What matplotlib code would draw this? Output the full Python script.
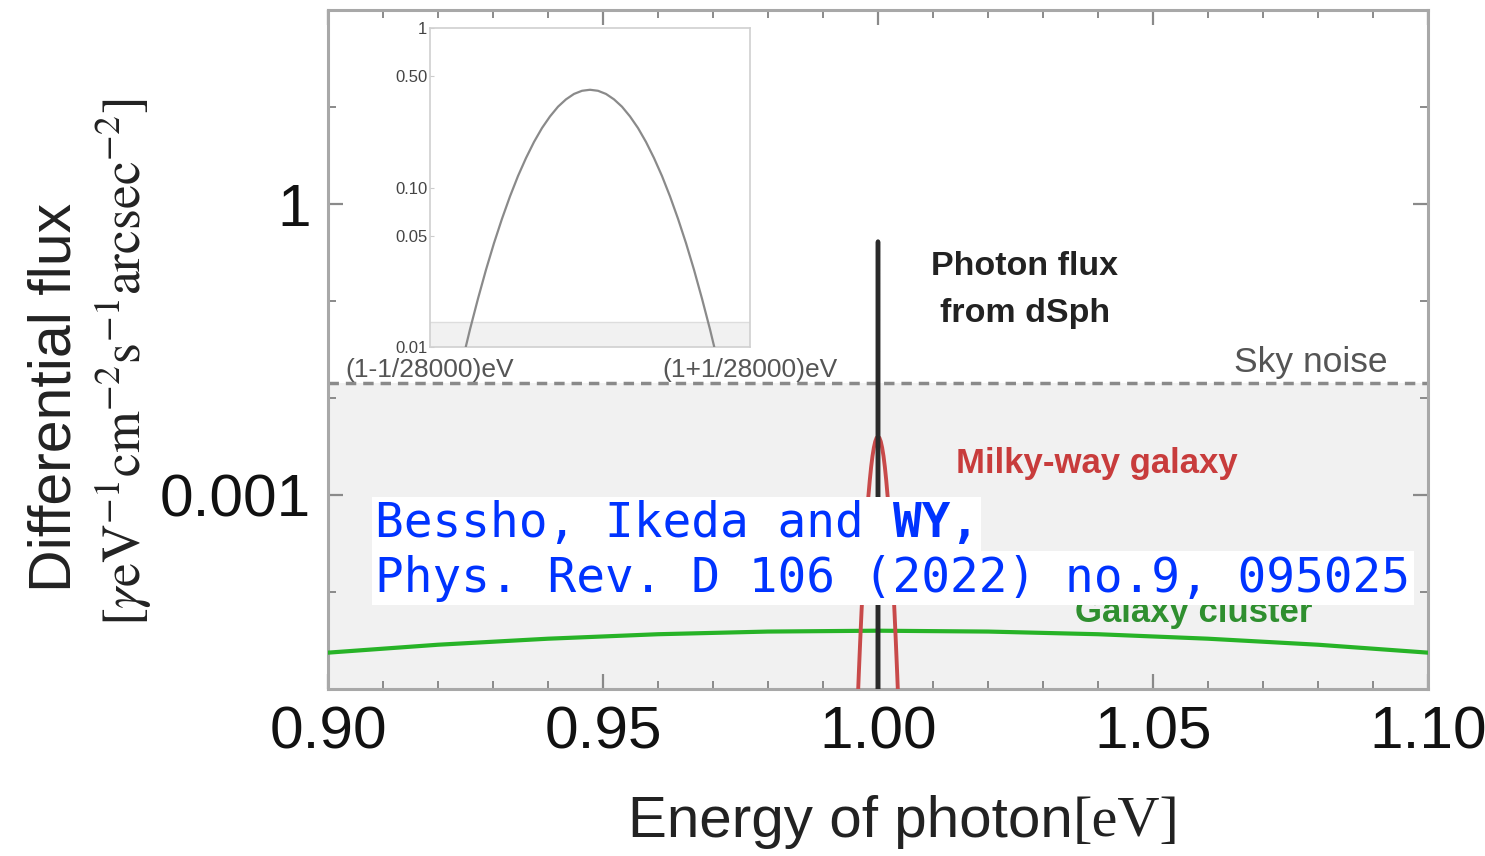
import matplotlib
matplotlib.use('Agg')
import matplotlib.pyplot as plt
import numpy as np
from matplotlib.ticker import FixedLocator, MultipleLocator, NullFormatter, FixedFormatter, FormatStrFormatter
from matplotlib.patches import Rectangle

# ---------------- data ----------------
x_min, x_max = 0.90, 1.10
y_min, y_max = 1e-5, 1e2
sky_noise = 0.0143

# photon flux from dSph: offsets in units of 1/28000 eV around 1 eV
photon_offset = [-1.4, -1.2, -1.0, -0.8, -0.75, -0.7, -0.65, -0.6, -0.55, -0.5, -0.45, -0.4,
                 -0.35, -0.3, -0.25, -0.2, -0.15, -0.1, -0.05, 0.0,
                 0.05, 0.1, 0.15, 0.2, 0.25, 0.3, 0.35, 0.4, 0.45, 0.5, 0.55, 0.6,
                 0.65, 0.7, 0.75, 0.8, 1.0, 1.2, 1.4]
photon_flux = [2.4e-6, 5.8e-5, 8.7e-4, 0.0080, 0.0129, 0.0201, 0.0305, 0.0448, 0.0637, 0.088, 0.118, 0.153,
               0.193, 0.236, 0.279, 0.321, 0.357, 0.386, 0.404, 0.41,
               0.404, 0.386, 0.357, 0.321, 0.279, 0.236, 0.193, 0.153, 0.118, 0.088, 0.0637, 0.0448,
               0.0305, 0.0201, 0.0129, 0.0080, 8.7e-4, 5.8e-5, 2.4e-6]

# Milky-way galaxy: energy offsets from 1 eV
milky_offset = [-0.00375, -0.0035, -0.00325, -0.003, -0.00275, -0.0025, -0.00225, -0.002, -0.00175,
                -0.0015, -0.00125, -0.001, -0.00075, -0.0005, -0.00025, 0.0,
                0.00025, 0.0005, 0.00075, 0.001, 0.00125, 0.0015, 0.00175, 0.002, 0.00225,
                0.0025, 0.00275, 0.003, 0.00325, 0.0035, 0.00375]
milky_flux = [6.0e-6, 1.39e-5, 3.0e-5, 6.2e-5, 1.21e-4, 2.22e-4, 3.85e-4, 6.3e-4, 9.7e-4,
              1.41e-3, 1.94e-3, 2.52e-3, 3.08e-3, 3.56e-3, 3.89e-3, 4.0e-3,
              3.89e-3, 3.56e-3, 3.08e-3, 2.52e-3, 1.94e-3, 1.41e-3, 9.7e-4, 6.3e-4, 3.85e-4,
              2.22e-4, 1.21e-4, 6.2e-5, 3.0e-5, 1.39e-5, 6.0e-6]

# Galaxy cluster
cluster_E = [0.90, 0.92, 0.94, 0.96, 0.98, 1.00, 1.02, 1.04, 1.06, 1.08, 1.10]
cluster_flux = [2.37e-5, 2.86e-5, 3.30e-5, 3.67e-5, 3.91e-5, 3.99e-5, 3.91e-5, 3.67e-5, 3.30e-5, 2.86e-5, 2.37e-5]

x_major = [0.90, 0.95, 1.00, 1.05, 1.10]
y_major = [1e-3, 1e0]
y_major_labels = ['0.001', '1']
y_minor = [1e-5, 1e-4, 1e-2, 1e-1, 1e1, 1e2]

inset_yticks = [0.01, 0.05, 0.10, 0.50, 1.0]
inset_ylabels = ['0.01', '0.05', '0.10', '0.50', '1']
inset_xticks = [-1, 1]
inset_xlabels = ['(1-1/28000)eV', '(1+1/28000)eV']

# ---------------- figure ----------------
W, H = 1485, 856
plt.rcParams['font.family'] = ['Liberation Sans', 'DejaVu Sans']
plt.rcParams['mathtext.fontset'] = 'stix'
fig = plt.figure(figsize=(W / 100, H / 100), dpi=100)

def fx(px):
    return px / W

def fy(py):
    return 1 - py / H

ax = fig.add_axes([fx(328), fy(689), fx(1428) - fx(328), fy(10) - fy(689)])
ax.set_yscale('log')
ax.set_xlim(x_min, x_max)
ax.set_ylim(y_min, y_max)

# shaded sky-noise region
ax.fill_between([x_min, x_max], [y_min, y_min], [sky_noise, sky_noise], color='#f1f1f1', zorder=0, lw=0)
ax.axhline(sky_noise, color='#8a8a8a', lw=2.5, ls=(0, (3, 2)), zorder=2)

ax.plot(cluster_E, cluster_flux, color='#27b327', lw=3, zorder=3)
milky_E = 1.0 + np.array(milky_offset)
ax.plot(milky_E, milky_flux, color='#c84a4a', lw=2.8, zorder=3)
photon_E = 1.0 + np.array(photon_offset) / 28000.0
ax.plot(photon_E, photon_flux, color='#2a2a2a', lw=3.2, zorder=4)

# ticks
ax.xaxis.set_major_locator(FixedLocator(x_major))
ax.xaxis.set_minor_locator(MultipleLocator(0.01))
ax.xaxis.set_major_formatter(FormatStrFormatter('%.2f'))
ax.yaxis.set_major_locator(FixedLocator(y_major))
ax.yaxis.set_major_formatter(FixedFormatter(y_major_labels))
ax.yaxis.set_minor_locator(FixedLocator(y_minor))
ax.yaxis.set_minor_formatter(NullFormatter())
ax.tick_params(which='both', direction='in', top=True, right=True, color='#8a8a8a')
ax.tick_params(which='major', length=11, width=1.6, labelsize=43.5, labelcolor='#111111')
ax.tick_params(which='minor', length=6, width=1.4)
ax.tick_params(axis='x', which='major', pad=12)
ax.tick_params(axis='y', which='major', pad=12)
for s in ax.spines.values():
    s.set_color('#a8a8a8')
    s.set_linewidth(2.2)

# annotations
ax.text(1.0267, 0.229, 'Photon flux', ha='center', va='center', fontsize=24.5, fontweight='bold', color='#222222', zorder=5)
ax.text(1.0267, 0.075, 'from dSph', ha='center', va='center', fontsize=24.5, fontweight='bold', color='#222222', zorder=5)
ax.text(1.0927, 0.0235, 'Sky noise', ha='right', va='center', fontsize=25.5, color='#555555', zorder=5)
ax.text(1.0142, 0.00209, 'Milky-way galaxy', ha='left', va='center', fontsize=25, fontweight='bold', color='#c83c3c', zorder=5)
ax.text(1.0358, 6.1e-5, 'Galaxy cluster', ha='left', va='center', fontsize=25, fontweight='bold', color='#2f8f2f', zorder=5)

# axis labels
fig.text(fx(55), fy(397), 'Differential flux', rotation=90, ha='center', va='center', fontsize=42.5, color='#222222')
fig.text(fx(124), fy(362), r'$[\gamma\mathrm{eV}^{-1}\mathrm{cm}^{-2}\mathrm{s}^{-1}\mathrm{arcsec}^{-2}]$',
         rotation=90, ha='center', va='center', fontsize=38.5, color='#222222')
fig.text(fx(1073), fy(822), 'Energy of photon', ha='right', va='center', fontsize=42, color='#222222')
fig.text(fx(1073), fy(822), '[eV]', ha='left', va='center', fontsize=42, color='#222222', family='Liberation Serif')

# inset
ins = fig.add_axes([fx(430), fy(347), fx(750) - fx(430), fy(28) - fy(347)])
ins.set_facecolor('white')
ins.set_yscale('log')
ins.set_xlim(-1, 1)
ins.set_ylim(0.01, 1)
ins.fill_between([-1, 1], [0.01, 0.01], [sky_noise, sky_noise], color='#f1f1f1', lw=0, zorder=0)
ins.axhline(sky_noise, color='#dddddd', lw=1, zorder=1)
ins.plot(photon_offset, photon_flux, color='#8a8a8a', lw=1.6, zorder=3)
ins.yaxis.set_major_locator(FixedLocator(inset_yticks))
ins.yaxis.set_major_formatter(FixedFormatter(inset_ylabels))
ins.yaxis.set_minor_locator(FixedLocator([]))
ins.xaxis.set_major_locator(FixedLocator(inset_xticks))
ins.xaxis.set_major_formatter(FixedFormatter(inset_xlabels))
ins.tick_params(axis='y', which='major', direction='in', length=3, color='#cccccc', labelsize=12, labelcolor='#444444', pad=2)
ins.tick_params(axis='x', which='major', direction='in', length=0, labelsize=19, labelcolor='#555555', pad=8)
for s in ins.spines.values():
    s.set_color('#d0d0d0')
    s.set_linewidth(1.2)

# citation overlay
fig.patches.append(Rectangle((fx(372), fy(551)), fx(981) - fx(372), fy(497) - fy(551),
                             transform=fig.transFigure, facecolor='white', edgecolor='none', zorder=10))
fig.patches.append(Rectangle((fx(372), fy(605)), fx(1414) - fx(372), fy(551) - fy(605),
                             transform=fig.transFigure, facecolor='white', edgecolor='none', zorder=10))
mono = 'DejaVu Sans Mono'
cw = 28.8
fig.text(fx(375), fy(524), 'Bessho, Ikeda and', family=mono, fontsize=34.4, color='#0033ff', ha='left', va='center', zorder=11)
fig.text(fx(375 + 18 * cw), fy(524), 'WY,', family=mono, fontsize=34.4, fontweight='bold', color='#0033ff', ha='left', va='center', zorder=11)
fig.text(fx(375), fy(578), 'Phys. Rev. D 106 (2022) no.9, 095025', family=mono, fontsize=34.4, color='#0033ff', ha='left', va='center', zorder=11)

fig.savefig('out.png', dpi=100)
